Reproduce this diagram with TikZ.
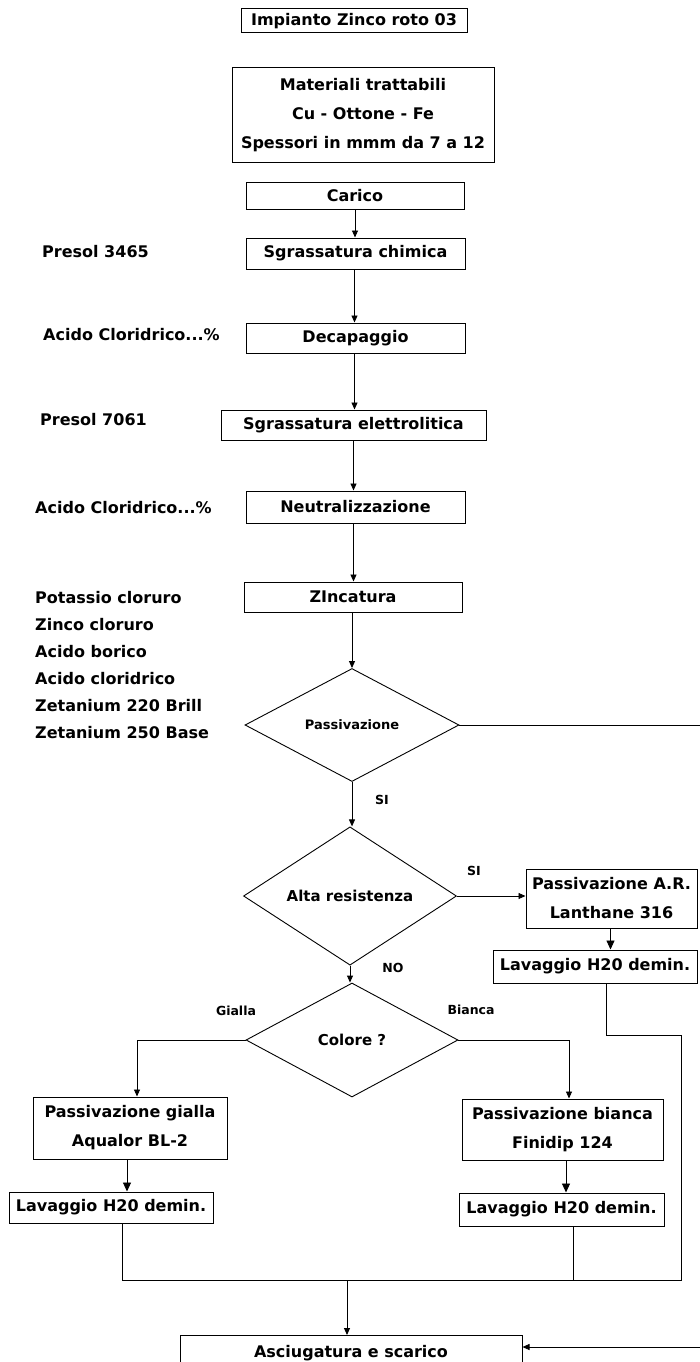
\documentclass[tikz,border=0pt]{standalone}
\usepackage{fontspec}
\setmainfont{DejaVu Sans}
\usetikzlibrary{shapes.geometric,arrows.meta}
\begin{document}
\begin{tikzpicture}[x=1pt,y=-1pt,
  box/.style={draw, line width=1pt, inner sep=0pt, align=center,
    font=\bfseries\fontsize{16}{29}\selectfont},
  dia/.style={draw, diamond, line width=0.9pt, inner sep=0pt},
  conn/.style={line width=0.9pt},
  arr/.style={conn, -{Triangle[length=7pt,width=6pt]}},
  bigarr/.style={conn, -{Triangle[length=9pt,width=8pt]}},
  lbl/.style={font=\bfseries\fontsize{16}{27}\selectfont, inner sep=0pt, anchor=west, align=left},
  small/.style={font=\bfseries\fontsize{12.5}{14}\selectfont, inner sep=0pt}
]
\useasboundingbox (0,0) rectangle (700,1362);

% main column
\node[box, minimum width=226, minimum height=24] (title) at (354,21) {Impianto Zinco roto 03};
\node[box, minimum width=262, minimum height=94] (mat) at (363,115)
  {Materiali trattabili\\Cu - Ottone - Fe\\Spessori in mmm da 7 a 12};
\node[box, minimum width=218, minimum height=27] (carico) at (355,196) {Carico};
\node[box, minimum width=219, minimum height=31] (chim) at (355.5,253.5) {Sgrassatura chimica};
\node[box, minimum width=219, minimum height=30] (dec) at (355.5,338) {Decapaggio};
\node[box, minimum width=265, minimum height=30] (elet) at (353.5,425) {Sgrassatura elettrolitica};
\node[box, minimum width=219, minimum height=32] (neut) at (355.5,507) {Neutralizzazione};
\node[box, minimum width=218, minimum height=30] (zinc) at (353,597) {ZIncatura};

\node[dia, minimum width=214, minimum height=113, font=\bfseries\fontsize{13}{15}\selectfont] (pas) at (352,725) {Passivazione};
\node[dia, minimum width=213, minimum height=114, font=\bfseries\fontsize{15}{17}\selectfont] (alta) at (350,896) {Alta resistenza};
\node[dia, minimum width=212, minimum height=114, font=\bfseries\fontsize{15}{17}\selectfont] (col) at (352,1040) {Colore ?};

\node[box, minimum width=171, minimum height=59] (par) at (611.5,898.5) {Passivazione A.R.\\Lanthane 316};
\node[box, minimum width=204, minimum height=33] (lavAR) at (595,966.5) {Lavaggio H20 demin.};

\node[box, minimum width=194, minimum height=62] (gia) at (130,1128) {Passivazione gialla\\Aqualor BL-2};
\node[box, minimum width=204, minimum height=31] (lavG) at (111,1207.5) {Lavaggio H20 demin.};
\node[box, minimum width=201, minimum height=61] (bia) at (562.5,1129.5) {Passivazione bianca\\Finidip 124};
\node[box, minimum width=205, minimum height=33] (lavB) at (561.5,1209.5) {Lavaggio H20 demin.};

\node[box, anchor=north, minimum width=342, inner ysep=4pt, text height=18pt, text depth=30pt] (asc) at (351,1335) {Asciugatura e scarico};

% left labels
\node[lbl] (l1) at (42,252) {Presol 3465};
\node[lbl] (l2) at (43,335) {Acido Cloridrico...\%};
\node[lbl] (l3) at (40,420) {Presol 7061};
\node[lbl] (l4) at (35,508) {Acido Cloridrico...\%};
\node[lbl] (l5) at (35,665) {Potassio cloruro\\Zinco cloruro\\Acido borico\\Acido cloridrico\\Zetanium 220 Brill\\Zetanium 250 Base};

% small labels
\node[small] (si1) at (382,800) {SI};
\node[small] (si2) at (474,871) {SI};
\node[small] (no) at (393,968) {NO};
\node[small] (gl) at (236,1011) {Gialla};
\node[small] (bl) at (471,1010) {Bianca};

% connectors main column
\draw[arr] (carico.south) -- (chim.north -| carico.south);
\draw[arr] ([xshift=-1pt]chim.south) -- ([xshift=-1pt]chim.south |- dec.north);
\draw[arr] ([xshift=-1pt]dec.south) -- ([xshift=-1pt]dec.south |- elet.north);
\draw[arr] (elet.south) -- (elet.south |- neut.north);
\draw[arr] ([xshift=-2pt]neut.south) -- ([xshift=-2pt]neut.south |- zinc.north);
\draw[arr] (pas.north |- zinc.south) -- (pas.north);
\draw[arr] (pas.south) -- (alta.north -| pas.south);
\draw[arr] (alta.east) -- (alta.east -| par.west);
\draw[bigarr] ([xshift=-1pt]par.south) -- ([xshift=-1pt]par.south |- lavAR.north);
\draw[arr] (alta.south) -- (col.north -| alta.south);

% colour branches
\draw[arr] (col.west) -| ([xshift=7pt]gia.north);
\draw[bigarr] ([xshift=-3pt]gia.south) -- ([xshift=-3pt]gia.south |- lavG.north);
\draw[arr] (col.east) -| ([xshift=6.5pt]bia.north);
\draw[bigarr] ([xshift=3.5pt]bia.south) -- ([xshift=3.5pt]bia.south |- lavB.north);

% collecting lines
\coordinate (rB) at (681,1035);
\coordinate (jR) at (681,1280);
\coordinate (jL) at (122,1280);
\coordinate (jM) at (347,1280);
\coordinate (jB) at (573,1280);
\draw[conn] ([xshift=11pt]lavAR.south) |- (rB) -- (jR) -- (jL) -- ([xshift=11pt]lavG.south);
\draw[conn] ([xshift=11.5pt]lavB.south) -- (jB);
\draw[arr] (jM) -- (jM |- asc.north);

% bypass from Passivazione
\coordinate (ascR) at ([yshift=-12pt]asc.north east);
\coordinate (pR) at (702,725);
\draw[arr] (pas.east) -- (pR) -- (pR |- ascR) -- (ascR);
\end{tikzpicture}
\end{document}
